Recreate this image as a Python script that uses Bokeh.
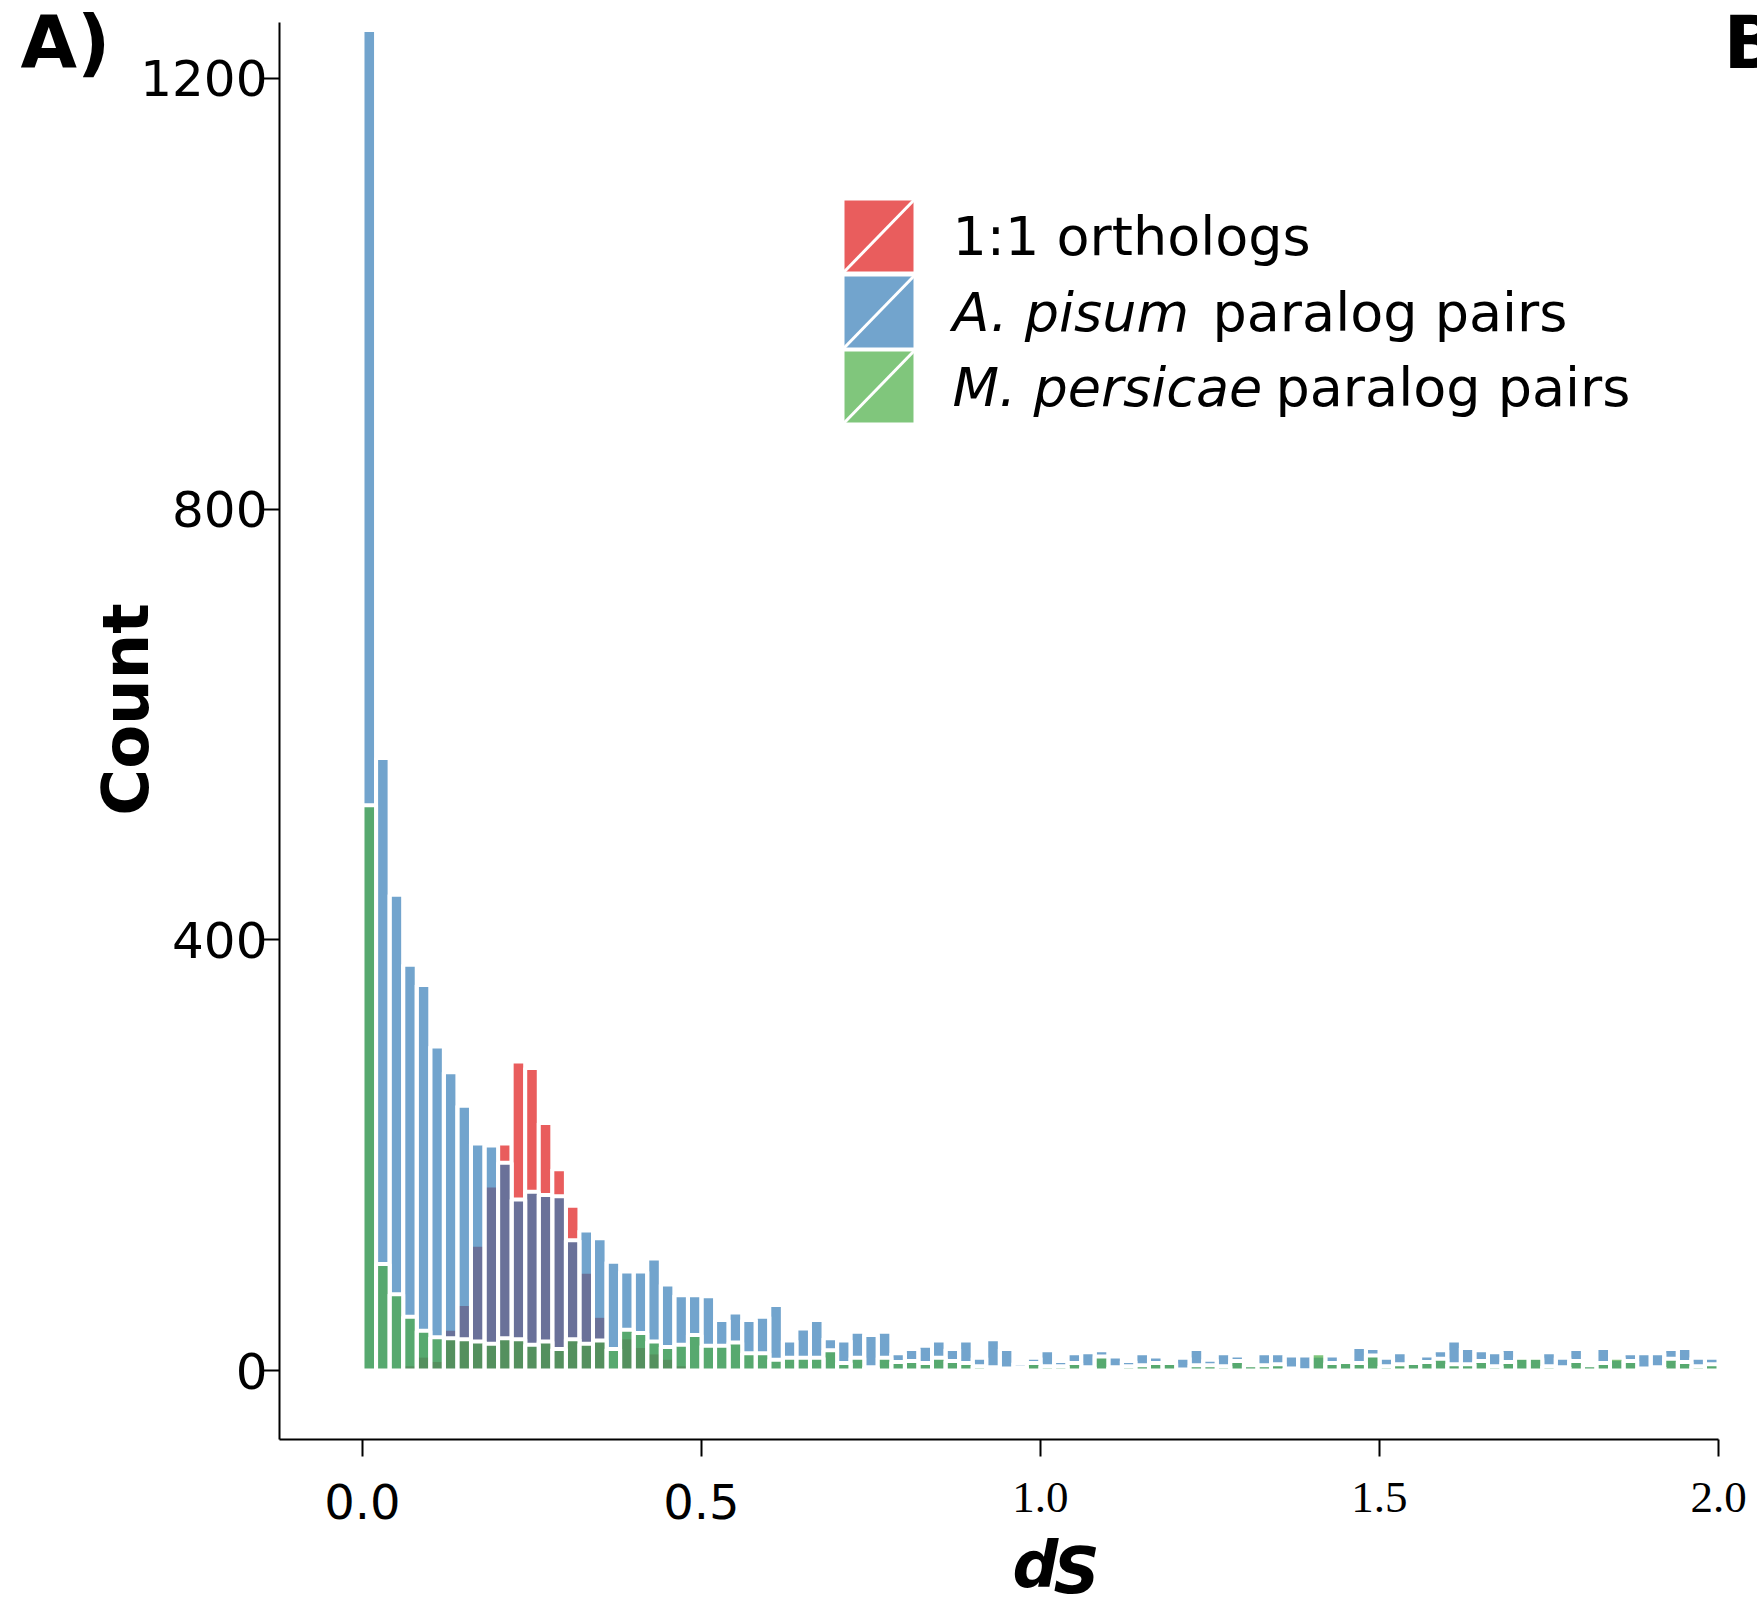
import math
import numpy as np
from bokeh.plotting import figure
from bokeh.models import Range1d, FixedTicker, Label
from bokeh.embed import file_html
from bokeh.resources import INLINE

# ---------------- data (histogram of dS, bin width 0.02 from 0 to 2) ----------------
BIN_WIDTH = 0.02
bin_left = [round(i * BIN_WIDTH, 2) for i in range(100)]

orthologs = [0, 0, 0, 4, 12, 8, 37, 60, 115, 170,
             211, 287, 281, 230, 187, 153, 90, 49, 0, 29,
             21, 15, 10, 4, 0, 0, 0, 0, 0, 0,
             0, 0, 0, 0, 0, 0, 0, 0, 0, 0,
             0, 0, 0, 0, 0, 0, 0, 0, 0, 0,
             0, 0, 0, 0, 0, 0, 0, 0, 0, 0,
             0, 0, 0, 0, 0, 0, 0, 0, 0, 0,
             0, 0, 0, 0, 0, 0, 0, 0, 0, 0,
             0, 0, 0, 0, 0, 0, 0, 0, 0, 0,
             0, 0, 0, 0, 0, 0, 0, 0, 0, 0]

a_pisum = [1245, 569, 442, 377, 358, 301, 277, 246, 211, 209,
           193, 159, 166, 163, 162, 121, 130, 123, 101, 92,
           92, 104, 80, 70, 70, 69, 47, 54, 47, 50,
           61, 28, 39, 47, 30, 28, 36, 33, 36, 16,
           20, 23, 28, 20, 28, 12, 29, 20, 7, 12,
           19, 9, 16, 17, 19, 13, 9, 16, 13, 6,
           12, 20, 10, 16, 14, 4, 16, 16, 14, 14,
           12, 14, 6, 22, 21, 12, 17, 6, 14, 19,
           28, 21, 19, 17, 20, 10, 10, 17, 12, 20,
           4, 21, 9, 16, 16, 16, 20, 21, 12, 12]

m_persicae = [525, 99, 71, 50, 37, 31, 30, 29, 27, 25,
              30, 29, 24, 27, 20, 29, 25, 28, 20, 38,
              35, 27, 22, 24, 33, 23, 23, 26, 16, 16,
              10, 12, 12, 12, 19, 7, 12, 3, 12, 8,
              9, 7, 12, 9, 7, 4, 3, 2, 3, 7,
              4, 4, 7, 3, 13, 3, 4, 5, 7, 7,
              1, 5, 5, 4, 9, 5, 5, 6, 2, 0,
              16, 7, 8, 7, 14, 4, 6, 7, 8, 11,
              6, 6, 9, 4, 8, 12, 12, 4, 3, 9,
              5, 7, 12, 9, 2, 3, 11, 8, 4, 6]

x_ticks = [0.0, 0.5, 1.0, 1.5, 2.0]
x_tick_labels_sans = {0.0: "0.0", 0.5: "0.5"}
x_tick_labels_serif = {1.0: "1.0", 1.5: "1.5", 2.0: "2.0"}
y_ticks = [0, 400, 800, 1200]

legend_labels = [("1:1 orthologs", ""), ("A. pisum", "paralog pairs"), ("M. persicae", "paralog pairs")]

# ---------------- colours ----------------
RED = "#e95d5d"
BLUE = "#72a4cd"
PURPLE = "#6a7199"
GREEN = "#80c67c"
GREEN_ON_BLUE = "#57a96f"
GREEN_DARK = "#54905e"

# ---------------- layout: the frame covers the whole canvas, axes are fixed ----------------
W, H = 1757, 1607
FL, FR, FT, FB = 279, 1718, 22, 1439          # pixel box of the drawn axes
AX0, AX1 = -0.1224, 2.0                        # x extent of the axis line
AY0, AY1 = -64, 1252                           # y extent of the axis line
SX = (AX1 - AX0) / (FR - FL)
SY = (AY1 - AY0) / (FB - FT)


def px2x(px):
    return AX0 + (px - FL) * SX


def px2y(py):
    return AY0 + (FB - py) * SY


p = figure(width=W, height=H,
           x_range=Range1d(px2x(0), px2x(W)), y_range=Range1d(px2y(H), px2y(0)),
           output_backend="svg", toolbar_location=None,
           min_border_left=0, min_border_right=0, min_border_top=0, min_border_bottom=0)
p.xgrid.visible = False
p.ygrid.visible = False
p.outline_line_color = None
p.background_fill_color = "white"
p.border_fill_color = "white"

xc = np.array(bin_left) + BIN_WIDTH / 2
r = np.array(orthologs, float)
b = np.array(a_pisum, float)
g = np.array(m_persicae, float)
rb = np.minimum(r, b)
gb = np.minimum(g, b)
gbr = np.minimum(gb, r)

LW = 4
# 1:1 orthologs
p.vbar(x=xc, width=BIN_WIDTH, bottom=0, top=r, fill_color=RED, line_color="white", line_width=LW)
# A. pisum (overlap with orthologs shown in purple)
p.vbar(x=xc, width=BIN_WIDTH, bottom=0, top=b, fill_color=BLUE, line_color=None)
p.vbar(x=xc, width=BIN_WIDTH, bottom=0, top=rb, fill_color=PURPLE, line_color=None)
p.vbar(x=xc, width=BIN_WIDTH, bottom=0, top=b, fill_color=None, line_color="white", line_width=LW)
# M. persicae (shade depends on what lies beneath)
p.vbar(x=xc, width=BIN_WIDTH, bottom=0, top=g, fill_color=GREEN, line_color=None)
p.vbar(x=xc, width=BIN_WIDTH, bottom=0, top=gb, fill_color=GREEN_ON_BLUE, line_color=None)
p.vbar(x=xc, width=BIN_WIDTH, bottom=0, top=gbr, fill_color=GREEN_DARK, line_color=None)
p.vbar(x=xc, width=BIN_WIDTH, bottom=0, top=g, fill_color=None, line_color="white", line_width=LW)

# ---------------- axes ----------------
for ax in (p.xaxis[0], p.yaxis[0]):
    ax.axis_line_width = 2
    ax.axis_line_color = "black"
    ax.major_tick_line_width = 2
    ax.major_tick_line_color = "black"
    ax.major_tick_out = 17
    ax.major_tick_in = 0
    ax.minor_tick_line_color = None
    ax.major_label_text_font = "DejaVu Sans"
    ax.major_label_text_color = "black"

p.yaxis.fixed_location = AX0
p.yaxis.bounds = (AY0, AY1)
p.yaxis.ticker = FixedTicker(ticks=y_ticks)
p.yaxis.major_label_text_font_size = "50px"
p.yaxis.major_label_standoff = -5

p.xaxis.fixed_location = AY0
p.xaxis.bounds = (AX0, AX1)
p.xaxis.ticker = FixedTicker(ticks=x_ticks)
overrides = {v: " " for v in x_ticks}
overrides.update(x_tick_labels_sans)
p.xaxis.major_label_overrides = overrides
p.xaxis.major_label_text_font_size = "48px"
p.xaxis.major_label_standoff = 17

for v, t in x_tick_labels_serif.items():
    p.add_layout(Label(x=v, y=px2y(1497), text=t, text_font="Liberation Serif",
                       text_font_size="45px", text_align="center", text_baseline="middle",
                       text_color="black"))

# axis titles
p.add_layout(Label(x=px2x(125), y=px2y(709), text="Count", angle=math.pi / 2,
                   text_font="DejaVu Sans", text_font_style="bold", text_font_size="64px",
                   text_align="center", text_baseline="middle", text_color="black"))
p.add_layout(Label(x=px2x(1012), y=px2y(1564), text="d", text_font="DejaVu Sans",
                   text_font_style="bold italic", text_font_size="64px",
                   text_align="left", text_baseline="middle", text_color="black"))
p.add_layout(Label(x=px2x(1053), y=px2y(1570), text="S", text_font="DejaVu Sans",
                   text_font_style="bold italic", text_font_size="64px",
                   text_align="left", text_baseline="middle", text_color="black"))

# panel letters
p.add_layout(Label(x=px2x(20), y=px2y(42), text="A)", text_font="DejaVu Sans",
                   text_font_style="bold", text_font_size="73px",
                   text_align="left", text_baseline="middle", text_color="black"))
p.add_layout(Label(x=px2x(1723), y=px2y(42), text="B", text_font="DejaVu Sans",
                   text_font_style="bold", text_font_size="73px",
                   text_align="left", text_baseline="middle", text_color="black"))

# ---------------- legend ----------------
key_colors = [RED, BLUE, GREEN]
key_left, key_right = 843, 914
key_tops = [199, 275, 350]
key_h = 73
normal_x = [None, 1212, 1275]
for i, (col, (lab_a, lab_b)) in enumerate(zip(key_colors, legend_labels)):
    top = key_tops[i]
    bot = top + key_h
    p.quad(left=px2x(key_left), right=px2x(key_right), top=px2y(top), bottom=px2y(bot),
           fill_color=col, line_color="white", line_width=2)
    p.segment(x0=px2x(key_left), y0=px2y(bot), x1=px2x(key_right), y1=px2y(top),
              line_color="white", line_width=3)
    cy = px2y(top + key_h / 2)
    style = "normal" if i == 0 else "italic"
    p.add_layout(Label(x=px2x(952), y=cy, text=lab_a, text_font="DejaVu Sans",
                       text_font_style=style, text_font_size="54px",
                       text_align="left", text_baseline="middle", text_color="black"))
    if lab_b:
        p.add_layout(Label(x=px2x(normal_x[i]), y=cy, text=lab_b, text_font="DejaVu Sans",
                           text_font_style="normal", text_font_size="54px",
                           text_align="left", text_baseline="middle", text_color="black"))

open("out.html", "w").write(file_html(p, INLINE))
